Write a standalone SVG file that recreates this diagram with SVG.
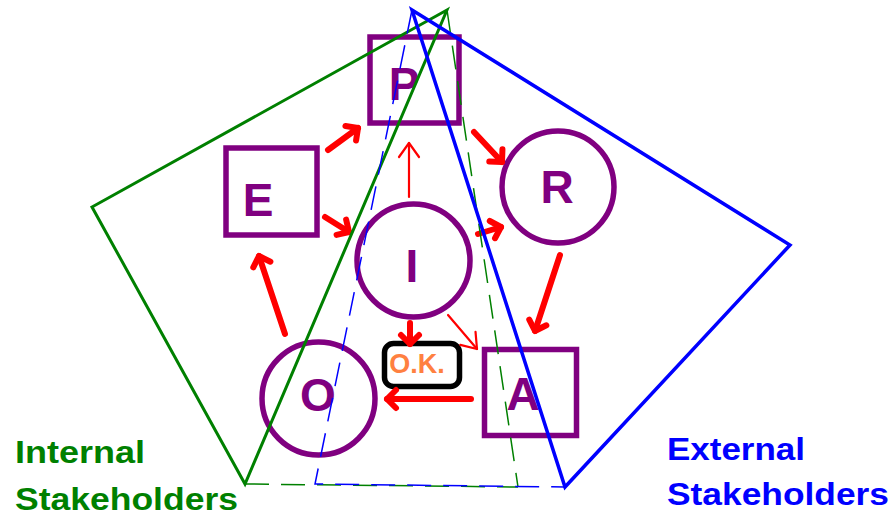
<svg xmlns="http://www.w3.org/2000/svg" width="894" height="517" viewBox="0 0 894 517">
<style>
.node{fill:none;stroke:#800080;stroke-width:5.5}
.lbl{font-family:"Liberation Sans",Arial,sans-serif;font-weight:bold;font-size:46px;fill:#800080;text-anchor:middle}
.thick{stroke:#ff0000;stroke-width:6;stroke-linecap:round;fill:none;marker-end:url(#hd)}
.thin{stroke:#ff0000;stroke-width:2.2;stroke-linecap:round;fill:none;marker-end:url(#hn)}
.stk{font-family:"Liberation Sans",Arial,sans-serif;font-weight:bold;font-size:31px}
</style>
<defs>
<marker id="hd" markerUnits="userSpaceOnUse" viewBox="-20 -20 40 40" markerWidth="40" markerHeight="40" refX="0" refY="0" orient="auto">
<path d="M-9,-9 L0,0 L-9,9" fill="none" stroke="#ff0000" stroke-width="6" stroke-linecap="round" stroke-linejoin="round"/>
</marker>
<marker id="hn" markerUnits="userSpaceOnUse" viewBox="-20 -20 40 40" markerWidth="40" markerHeight="40" refX="0" refY="0" orient="auto">
<path d="M-14,-10 L0,0 L-14,10" fill="none" stroke="#ff0000" stroke-width="2.2" stroke-linecap="round" stroke-linejoin="round"/>
</marker>
</defs>
<rect width="894" height="517" fill="#ffffff"/>

<g id="node-P"><rect class="node" x="370" y="37" width="89" height="86"/><text class="lbl" x="404" y="100">P</text></g>
<g id="node-E"><rect class="node" x="226" y="148" width="91" height="87"/><text class="lbl" x="258" y="216">E</text></g>
<g id="node-R"><circle class="node" cx="558" cy="187" r="56"/><text class="lbl" x="557" y="203">R</text></g>
<g id="node-I"><circle class="node" cx="413.5" cy="260.5" r="56.5"/><text class="lbl" x="412" y="282">I</text></g>
<g id="node-O"><circle class="node" cx="318.5" cy="398.5" r="56.5"/><text class="lbl" x="318" y="411">O</text></g>
<g id="node-A"><rect class="node" x="484.5" y="349.5" width="92" height="86"/><text class="lbl" x="523" y="410">A</text></g>
<g id="node-OK"><rect x="384.5" y="343.5" width="75" height="43" rx="9" fill="#ffffff" stroke="#000000" stroke-width="5.5"/><text x="417" y="373" font-family="Liberation Sans,Arial,sans-serif" font-weight="bold" font-size="27" fill="#ff8040" text-anchor="middle">O.K.</text></g>

<g id="connectors">
<line class="thick" x1="328" y1="150" x2="358" y2="128"/>
<line class="thick" x1="325" y1="217" x2="349" y2="232"/>
<line class="thin" x1="409" y1="197" x2="409" y2="143"/>
<line class="thick" x1="474" y1="132" x2="502" y2="162"/>
<line class="thick" x1="478" y1="234" x2="501" y2="227"/>
<line class="thick" x1="560" y1="255" x2="535" y2="331"/>
<line class="thick" x1="410" y1="323" x2="410" y2="344"/>
<line class="thin" x1="448" y1="315" x2="477" y2="349"/>
<line class="thick" x1="471" y1="399" x2="387" y2="399"/>
<line class="thick" x1="285" y1="334" x2="259" y2="256"/>
</g>

<g id="internal-pyramid" fill="none" stroke="#008000">
<polygon points="447,10 92,207 245,484" stroke-width="3"/>
<path d="M447,10 L518,487 M245,484 L518,487" stroke-width="1.5" stroke-dasharray="24 12"/>
</g>
<g id="external-pyramid" fill="none" stroke="#0000ff">
<polygon points="412,10 790,245 565,487" stroke-width="3.5"/>
<path d="M412,10 L315,484 L565,487" stroke-width="1.5" stroke-dasharray="24 12"/>
</g>

<g id="label-internal" class="stk" fill="#008000">
<text x="15" y="463" textLength="130" lengthAdjust="spacingAndGlyphs">Internal</text>
<text x="15" y="510" textLength="223" lengthAdjust="spacingAndGlyphs">Stakeholders</text>
</g>
<g id="label-external" class="stk" fill="#0000ff">
<text x="667" y="460" textLength="138" lengthAdjust="spacingAndGlyphs">External</text>
<text x="667" y="505" textLength="222" lengthAdjust="spacingAndGlyphs">Stakeholders</text>
</g>
</svg>
